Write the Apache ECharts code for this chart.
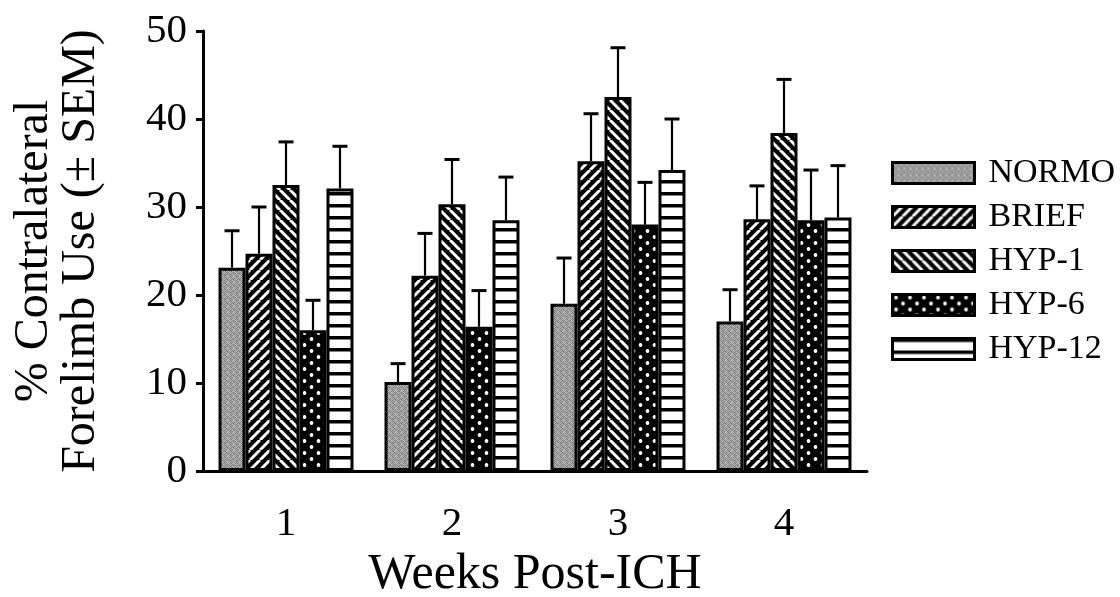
<!DOCTYPE html>
<html>
<head>
<meta charset="utf-8">
<script src="https://cdn.jsdelivr.net/npm/echarts@6/dist/echarts.min.js"></script>
<style>
html,body{margin:0;padding:0;background:#fff;}
#chart{width:1120px;height:597px;}
</style>
</head>
<body>
<div id="chart"></div>
<script>
const weeks = ['1', '2', '3', '4'];
const groupNames = ['NORMO', 'BRIEF', 'HYP-1', 'HYP-6', 'HYP-12'];
const normo = [23.1, 10.1, 19.0, 17.0];
const brief = [24.7, 22.2, 35.2, 28.6];
const hyp1 = [32.5, 30.3, 42.5, 38.4];
const hyp6 = [16.0, 16.4, 28.0, 28.5];
const hyp12 = [32.1, 28.5, 34.2, 28.8];
const normoSem = [4.2, 2.1, 5.2, 3.6];
const briefSem = [5.3, 4.8, 5.4, 3.8];
const hyp1Sem = [4.9, 5.1, 5.6, 6.1];
const hyp6Sem = [3.4, 4.1, 4.8, 5.7];
const hyp12Sem = [4.8, 4.9, 5.8, 5.9];
const yTicks = [0, 10, 20, 30, 40, 50];

const means = [normo, brief, hyp1, hyp6, hyp12];
const sems = [normoSem, briefSem, hyp1Sem, hyp6Sem, hyp12Sem];

const FONT = '"Liberation Serif", "Times New Roman", serif';
const GAP_RATIO = 0.187;

function makeTile(w, h, draw) {
  const c = document.createElement('canvas');
  c.width = w; c.height = h;
  const ctx = c.getContext('2d');
  draw(ctx, w, h);
  return c;
}
// gray stipple
const stipple = makeTile(6, 6, (ctx) => {
  const m = [
    [150,190,120,175,140,200],
    [185,130,170,110,195,150],
    [125,200,145,185,130,170],
    [175,140,195,120,165,115],
    [135,180,115,160,200,145],
    [195,120,170,140,125,185]
  ];
  for (let y = 0; y < 6; y++) for (let x = 0; x < 6; x++) {
    const v = m[y][x];
    ctx.fillStyle = 'rgb(' + v + ',' + v + ',' + v + ')';
    ctx.fillRect(x, y, 1, 1);
  }
});
function diag(dir) {
  const s = 10;
  return makeTile(s, s, (ctx) => {
    ctx.fillStyle = '#000';
    ctx.fillRect(0, 0, s, s);
    ctx.strokeStyle = '#fff';
    ctx.lineWidth = 3;
    for (let k = -1; k <= 1; k++) {
      ctx.beginPath();
      if (dir > 0) { ctx.moveTo(k * s, s); ctx.lineTo(k * s + s, 0); }
      else { ctx.moveTo(k * s, 0); ctx.lineTo(k * s + s, s); }
      ctx.stroke();
    }
  });
}
const dots = makeTile(14, 12, (ctx) => {
  ctx.fillStyle = '#000';
  ctx.fillRect(0, 0, 14, 12);
  ctx.fillStyle = '#fff';
  [[3.5, 3], [10.5, 9]].forEach(p => {
    ctx.beginPath(); ctx.arc(p[0], p[1], 1.9, 0, Math.PI * 2); ctx.fill();
  });
});
const hlines = makeTile(4, 12, (ctx) => {
  ctx.fillStyle = '#fff';
  ctx.fillRect(0, 0, 4, 12);
  ctx.fillStyle = '#000';
  ctx.fillRect(0, 0, 4, 3.5);
});
const fills = [stipple, diag(1), diag(-1), dots, hlines];

const barSeries = groupNames.map((name, i) => ({
  name: name,
  type: 'bar',
  barGap: '0%',
  barCategoryGap: (GAP_RATIO * 100) + '%',
  data: means[i],
  itemStyle: {
    color: { image: fills[i], repeat: 'repeat' },
    borderColor: '#000',
    borderWidth: 3
  },
  emphasis: { disabled: true },
  z: 2
}));

const errData = [];
means.forEach((arr, gi) => arr.forEach((v, ci) => errData.push([ci, v, v + sems[gi][ci], gi])));

const errSeries = {
  type: 'custom',
  name: 'err',
  data: errData,
  z: 1,
  silent: true,
  encode: { x: 0, y: [1, 2] },
  renderItem: function (params, api) {
    const ci = api.value(0), gi = api.value(3);
    const base = api.coord([ci, api.value(1)]);
    const top = api.coord([ci, api.value(2)]);
    const band = api.size([1, 0])[0];
    const gw = band * (1 - GAP_RATIO);
    const bw = gw / groupNames.length;
    const x = base[0] - gw / 2 + bw * (gi + 0.5);
    const capHalf = 7.5;
    return {
      type: 'group',
      children: [
        { type: 'line', shape: { x1: x, y1: base[1], x2: x, y2: top[1] }, style: { stroke: '#000', lineWidth: 2.2 } },
        { type: 'line', shape: { x1: x - capHalf, y1: top[1], x2: x + capHalf, y2: top[1] }, style: { stroke: '#000', lineWidth: 3 } }
      ]
    };
  }
};

const chart = echarts.init(document.getElementById('chart'), null, { renderer: 'canvas' });
chart.setOption({
  animation: false,
  backgroundColor: '#fff',
  grid: { left: 203, right: 253, top: 31, bottom: 126, containLabel: false, outerBoundsMode: 'none' },
  legend: {
    data: groupNames,
    orient: 'vertical',
    left: 886,
    top: 151,
    icon: 'rect',
    itemWidth: 82,
    itemHeight: 21,
    itemGap: 10,
    selectedMode: false,
    itemStyle: { borderColor: '#000', borderWidth: 3 },
    textStyle: { fontFamily: FONT, fontSize: 34, color: '#000', lineHeight: 34, padding: [0, 0, 0, 9] }
  },
  xAxis: {
    type: 'category',
    data: weeks,
    name: 'Weeks Post-ICH',
    nameLocation: 'middle',
    nameGap: 74,
    nameTextStyle: { fontFamily: FONT, fontSize: 50, color: '#000' },
    axisLine: { lineStyle: { color: '#000', width: 3 } },
    axisTick: { alignWithLabel: true, length: 5, lineStyle: { color: '#000', width: 3 } },
    axisLabel: { fontFamily: FONT, fontSize: 41, color: '#000', margin: 33 },
    splitLine: { show: false }
  },
  yAxis: {
    type: 'value',
    min: yTicks[0],
    max: yTicks[yTicks.length - 1],
    interval: yTicks[1] - yTicks[0],
    name: '% Contralateral\nForelimb Use (± SEM)',
    nameLocation: 'middle',
    nameRotate: 90,
    nameGap: 98,
    nameTextStyle: { fontFamily: FONT, fontSize: 48, color: '#000', lineHeight: 47, align: 'center' },
    axisLine: { show: true, lineStyle: { color: '#000', width: 3 } },
    axisTick: { show: true, inside: false, length: 7, lineStyle: { color: '#000', width: 3 } },
    axisLabel: { fontFamily: FONT, fontSize: 41, color: '#000', margin: 16 },
    splitLine: { show: false }
  },
  series: barSeries.concat([errSeries])
});
</script>
</body>
</html>
